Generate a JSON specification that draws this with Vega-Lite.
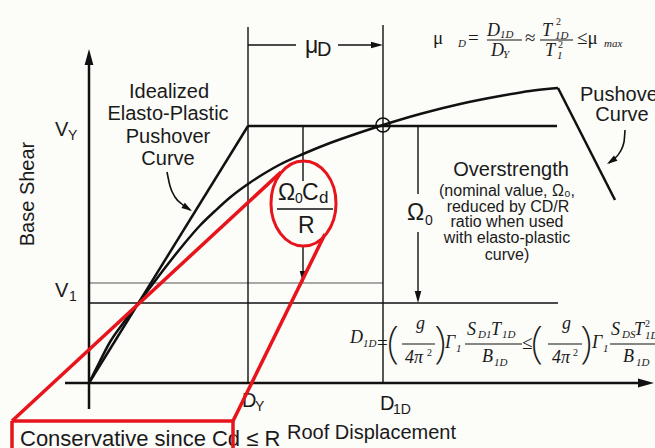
{
  "$schema": "https://vega.github.io/schema/vega-lite/v6.json",
  "width": 655,
  "height": 448,
  "padding": 0,
  "autosize": {"type": "none"},
  "background": "#fcfcf9",
  "config": {"view": {"stroke": null}},
  "datasets": {
    "axes": [
      {"x": -24, "y": 0, "x2": 555, "y2": 0},
      {"x": 0, "y": -26, "x2": 0, "y2": 321},
      {"x": 0, "y": 0, "x2": 159, "y2": 257},
      {"x": 159, "y": 257, "x2": 468, "y2": 257},
      {"x": 469, "y": 295, "x2": 526, "y2": 183}
    ],
    "guides": [
      {"x": 159, "y": 0, "x2": 159, "y2": 356},
      {"x": 294, "y": 0, "x2": 294, "y2": 358},
      {"x": 159, "y": 338, "x2": 207, "y2": 338},
      {"x": 249, "y": 338, "x2": 288, "y2": 338},
      {"x": 214, "y": 257, "x2": 214, "y2": 202},
      {"x": 214, "y": 138, "x2": 214, "y2": 106},
      {"x": 329, "y": 257, "x2": 329, "y2": 189},
      {"x": 329, "y": 151, "x2": 329, "y2": 86},
      {"x": 0, "y": 80, "x2": 469, "y2": 80},
      {"x": 188, "y": 174, "x2": 244, "y2": 174}
    ],
    "thin": [
      {"x": 0, "y": 100, "x2": 294, "y2": 100}
    ],
    "bars": [
      {"x": 398, "y": 343, "x2": 433, "y2": 343},
      {"x": 451, "y": 343, "x2": 484, "y2": 343},
      {"x": 313, "y": 39, "x2": 346, "y2": 39},
      {"x": 376, "y": 39, "x2": 433, "y2": 39},
      {"x": 459, "y": 39, "x2": 493, "y2": 39},
      {"x": 521, "y": 39, "x2": 566, "y2": 39}
    ],
    "red": [
      {"x": -77, "y": -38, "x2": 192, "y2": 211},
      {"x": 144, "y": -38, "x2": 236, "y2": 149},
      {"x": -77, "y": -38, "x2": 144, "y2": -38},
      {"x": -77, "y": -38, "x2": -77, "y2": -65},
      {"x": 144, "y": -38, "x2": 144, "y2": -65}
    ],
    "pushover": [
      {"x": 0, "y": 0}, {"x": 10, "y": 20}, {"x": 21, "y": 41}, {"x": 35, "y": 61},
      {"x": 49, "y": 79.5}, {"x": 63, "y": 98}, {"x": 79, "y": 119}, {"x": 95, "y": 139},
      {"x": 111, "y": 157.5}, {"x": 126, "y": 172}, {"x": 141, "y": 185.5}, {"x": 159, "y": 199},
      {"x": 176, "y": 210}, {"x": 191, "y": 218.5}, {"x": 214, "y": 229}, {"x": 241, "y": 240},
      {"x": 268, "y": 249.5}, {"x": 294, "y": 258}, {"x": 331, "y": 269}, {"x": 371, "y": 279},
      {"x": 411, "y": 287}, {"x": 441, "y": 292}, {"x": 469, "y": 295}
    ],
    "callout1": [
      {"x": 78, "y": 211}, {"x": 81, "y": 197}, {"x": 86, "y": 186}, {"x": 94, "y": 178}, {"x": 101, "y": 173}
    ],
    "callout2": [
      {"x": 520, "y": 220}, {"x": 525, "y": 224}, {"x": 531, "y": 231}, {"x": 535, "y": 241}, {"x": 536, "y": 253}
    ],
    "arrowUp": [{"x": 0, "y": 334}],
    "arrowRightBig": [{"x": 565, "y": 0}],
    "arrowRight": [{"x": 294, "y": 338}],
    "arrowDown": [{"x": 214, "y": 100}, {"x": 329, "y": 80}],
    "arrowDiag1": [{"x": 103, "y": 172}],
    "arrowDiag2": [{"x": 518, "y": 219}],
    "yieldPoint": [{"x": 294, "y": 258}],
    "ellipse": [{"x": 214.5, "y": 179.5}],
    "labels20c": [
      {"x": 80, "y": 291, "t": "Idealized"},
      {"x": 79, "y": 269, "t": "Elasto-Plastic"},
      {"x": 79, "y": 246, "t": "Pushover"},
      {"x": 79, "y": 224, "t": "Curve"},
      {"x": 533, "y": 268, "t": "Curve"},
      {"x": 422, "y": 213, "t": "Overstrength"}
    ],
    "labels20l": [
      {"x": 491, "y": 288, "t": "Pushover"},
      {"x": -34, "y": 253, "t": "V"},
      {"x": -34, "y": 92, "t": "V"},
      {"x": 198, "y": -50, "t": "Roof Displacement"},
      {"x": 153, "y": -18, "t": "D"},
      {"x": 291, "y": -21, "t": "D"},
      {"x": 228, "y": 333, "t": "D"}
    ],
    "subs": [
      {"x": -21, "y": 247, "t": "Y"},
      {"x": -20, "y": 86, "t": "1"},
      {"x": 166, "y": -24, "t": "Y"},
      {"x": 304, "y": -27, "t": "1D"},
      {"x": 206, "y": 184, "t": "0"},
      {"x": 336, "y": 162, "t": "0"}
    ],
    "subd": [
      {"x": 230, "y": 185, "t": "d"}
    ],
    "bigsym": [
      {"x": 189, "y": 190, "t": "Ω"},
      {"x": 213, "y": 190, "t": "C"},
      {"x": 209, "y": 157, "t": "R"},
      {"x": 318, "y": 170, "t": "Ω"},
      {"x": 216, "y": 337, "t": "μ"}
    ],
    "small16": [
      {"x": 418, "y": 192, "t": "(nominal value, Ω₀,"},
      {"x": 419, "y": 176, "t": "reduced by CD/R"},
      {"x": 418, "y": 161, "t": "ratio when used"},
      {"x": 418, "y": 145, "t": "with elasto-plastic"},
      {"x": 418, "y": 128, "t": "curve)"}
    ],
    "conserv": [{"x": -69, "y": -56, "t": "Conservative since Cd ≤ R"}],
    "ytitle": [{"x": -61, "y": 189, "t": "Base Shear"}],
    "fmain": [
      {"x": 398, "y": 347, "t": "D"},
      {"x": 402, "y": 327, "t": "D"},
      {"x": 453, "y": 347, "t": "T"},
      {"x": 456, "y": 327, "t": "T"},
      {"x": 261, "y": 40, "t": "D"},
      {"x": 327, "y": 54, "t": "g"},
      {"x": 316, "y": 20, "t": "4π"},
      {"x": 356, "y": 35, "t": "Γ"},
      {"x": 378, "y": 48, "t": "S"},
      {"x": 402, "y": 48, "t": "T"},
      {"x": 393, "y": 21, "t": "B"},
      {"x": 473, "y": 54, "t": "g"},
      {"x": 463, "y": 20, "t": "4π"},
      {"x": 503, "y": 35, "t": "Γ"},
      {"x": 522, "y": 48, "t": "S"},
      {"x": 545, "y": 48, "t": "T"},
      {"x": 534, "y": 21, "t": "B"}
    ],
    "fsub": [
      {"x": 369, "y": 336, "t": "D"},
      {"x": 411, "y": 345, "t": "1D"},
      {"x": 414, "y": 325, "t": "Y"},
      {"x": 466, "y": 344, "t": "1D"},
      {"x": 468, "y": 324, "t": "1"},
      {"x": 515, "y": 336, "t": "max"},
      {"x": 274, "y": 36, "t": "1D"},
      {"x": 367, "y": 31, "t": "1"},
      {"x": 389, "y": 45, "t": "D1"},
      {"x": 413, "y": 45, "t": "1D"},
      {"x": 405, "y": 17, "t": "1D"},
      {"x": 514, "y": 31, "t": "1"},
      {"x": 533, "y": 45, "t": "DS"},
      {"x": 556, "y": 44, "t": "1D"},
      {"x": 547, "y": 17, "t": "1D"}
    ],
    "fsup": [
      {"x": 467, "y": 358, "t": "2"},
      {"x": 469, "y": 335, "t": "2"},
      {"x": 338, "y": 27, "t": "2"},
      {"x": 484, "y": 27, "t": "2"},
      {"x": 556, "y": 56, "t": "2"}
    ],
    "fsym": [
      {"x": 344, "y": 339, "t": "μ"},
      {"x": 379, "y": 339, "t": "="},
      {"x": 436, "y": 339, "t": "≈"},
      {"x": 488, "y": 339, "t": "≤μ"},
      {"x": 288, "y": 34, "t": "="},
      {"x": 433, "y": 34, "t": "≤"}
    ],
    "fparen": [
      {"x": 304, "y": 38, "t": "("},
      {"x": 351, "y": 38, "t": ")"},
      {"x": 448, "y": 38, "t": "("},
      {"x": 497, "y": 38, "t": ")"}
    ]
  },
  "encoding": {
    "x": {"field": "x", "type": "quantitative", "scale": {"domain": [-89, 566], "nice": false, "zero": false}, "axis": null},
    "y": {"field": "y", "type": "quantitative", "scale": {"domain": [-65, 383], "nice": false, "zero": false}, "axis": null}
  },
  "layer": [
    {"data": {"name": "thin"}, "mark": {"type": "rule", "color": "#555", "strokeWidth": 1}, "encoding": {"x2": {"field": "x2"}, "y2": {"field": "y2"}}},
    {"data": {"name": "guides"}, "mark": {"type": "rule", "color": "#111", "strokeWidth": 1.4}, "encoding": {"x2": {"field": "x2"}, "y2": {"field": "y2"}}},
    {"data": {"name": "bars"}, "mark": {"type": "rule", "color": "#111", "strokeWidth": 1}, "encoding": {"x2": {"field": "x2"}, "y2": {"field": "y2"}}},
    {"data": {"name": "axes"}, "mark": {"type": "rule", "color": "#111", "strokeWidth": 2.5}, "encoding": {"x2": {"field": "x2"}, "y2": {"field": "y2"}}},
    {"data": {"name": "pushover"}, "mark": {"type": "line", "interpolate": "monotone", "color": "#111", "strokeWidth": 2.5}},
    {"data": {"name": "callout1"}, "mark": {"type": "line", "interpolate": "monotone", "color": "#111", "strokeWidth": 1.6}},
    {"data": {"name": "callout2"}, "mark": {"type": "line", "interpolate": "monotone", "color": "#111", "strokeWidth": 1.6}},
    {"data": {"name": "arrowUp"}, "mark": {"type": "point", "shape": "M0,0L-0.55,2L0.55,2Z", "size": 256, "filled": true, "color": "#111", "opacity": 1}},
    {"data": {"name": "arrowRightBig"}, "mark": {"type": "point", "shape": "M0,0L-0.55,2L0.55,2Z", "size": 256, "angle": 90, "filled": true, "color": "#111", "opacity": 1}},
    {"data": {"name": "arrowRight"}, "mark": {"type": "point", "shape": "M0,0L-0.55,2L0.55,2Z", "size": 144, "angle": 90, "filled": true, "color": "#111", "opacity": 1}},
    {"data": {"name": "arrowDown"}, "mark": {"type": "point", "shape": "M0,0L-0.55,2L0.55,2Z", "size": 144, "angle": 180, "filled": true, "color": "#111", "opacity": 1}},
    {"data": {"name": "arrowDiag1"}, "mark": {"type": "point", "shape": "M0,0L-0.6,2L0.6,2Z", "size": 110, "angle": 122, "filled": true, "color": "#111", "opacity": 1}},
    {"data": {"name": "arrowDiag2"}, "mark": {"type": "point", "shape": "M0,0L-0.6,2L0.6,2Z", "size": 110, "angle": 236, "filled": true, "color": "#111", "opacity": 1}},
    {"data": {"name": "yieldPoint"}, "mark": {"type": "point", "shape": "circle", "size": 196, "filled": false, "stroke": "#111", "strokeWidth": 1.6, "opacity": 1}},
    {"data": {"name": "labels20c"}, "mark": {"type": "text", "font": "Liberation Sans", "fontSize": 20, "align": "center", "baseline": "middle", "color": "#1a1a1a"}, "encoding": {"text": {"field": "t"}}},
    {"data": {"name": "labels20l"}, "mark": {"type": "text", "font": "Liberation Sans", "fontSize": 20, "align": "left", "baseline": "middle", "color": "#1a1a1a"}, "encoding": {"text": {"field": "t"}}},
    {"data": {"name": "subs"}, "mark": {"type": "text", "font": "Liberation Sans", "fontSize": 14, "align": "left", "baseline": "middle", "color": "#1a1a1a"}, "encoding": {"text": {"field": "t"}}},
    {"data": {"name": "subd"}, "mark": {"type": "text", "font": "Liberation Sans", "fontSize": 17, "align": "left", "baseline": "middle", "color": "#1a1a1a"}, "encoding": {"text": {"field": "t"}}},
    {"data": {"name": "bigsym"}, "mark": {"type": "text", "font": "Liberation Sans", "fontSize": 23, "align": "left", "baseline": "middle", "color": "#1a1a1a"}, "encoding": {"text": {"field": "t"}}},
    {"data": {"name": "small16"}, "mark": {"type": "text", "font": "Liberation Sans", "fontSize": 16, "align": "center", "baseline": "middle", "color": "#1a1a1a"}, "encoding": {"text": {"field": "t"}}},
    {"data": {"name": "conserv"}, "mark": {"type": "text", "font": "Liberation Sans", "fontSize": 22, "align": "left", "baseline": "middle", "color": "#1a1a1a"}, "encoding": {"text": {"field": "t"}}},
    {"data": {"name": "ytitle"}, "mark": {"type": "text", "font": "Liberation Sans", "fontSize": 20, "align": "center", "baseline": "middle", "angle": 270, "color": "#1a1a1a"}, "encoding": {"text": {"field": "t"}}},
    {"data": {"name": "fmain"}, "mark": {"type": "text", "font": "Liberation Serif", "fontStyle": "italic", "fontSize": 18, "align": "left", "baseline": "alphabetic", "color": "#1a1a1a"}, "encoding": {"text": {"field": "t"}}},
    {"data": {"name": "fsub"}, "mark": {"type": "text", "font": "Liberation Serif", "fontStyle": "italic", "fontSize": 11, "align": "left", "baseline": "alphabetic", "color": "#1a1a1a"}, "encoding": {"text": {"field": "t"}}},
    {"data": {"name": "fsup"}, "mark": {"type": "text", "font": "Liberation Serif", "fontSize": 10, "align": "left", "baseline": "alphabetic", "color": "#1a1a1a"}, "encoding": {"text": {"field": "t"}}},
    {"data": {"name": "fsym"}, "mark": {"type": "text", "font": "Liberation Serif", "fontSize": 19, "align": "left", "baseline": "alphabetic", "color": "#1a1a1a"}, "encoding": {"text": {"field": "t"}}},
    {"data": {"name": "fparen"}, "mark": {"type": "text", "font": "'DejaVu Sans ExtraLight', 'Noto Sans', 'DejaVu Sans'", "fontSize": 44, "fontWeight": 200, "align": "center", "baseline": "middle", "color": "#1a1a1a"}, "encoding": {"text": {"field": "t"}}},
    {"data": {"name": "red"}, "mark": {"type": "rule", "color": "#e8141c", "strokeWidth": 3.5}, "encoding": {"x2": {"field": "x2"}, "y2": {"field": "y2"}}},
    {"data": {"name": "ellipse"}, "mark": {"type": "point", "shape": "M-0.765,0C-0.765,-0.552,-0.422,-1,0,-1C0.422,-1,0.765,-0.552,0.765,0C0.765,0.552,0.422,1,0,1C-0.422,1,-0.765,0.552,-0.765,0Z", "size": 7225, "filled": false, "stroke": "#e8141c", "strokeWidth": 3, "opacity": 1}}
  ]
}
